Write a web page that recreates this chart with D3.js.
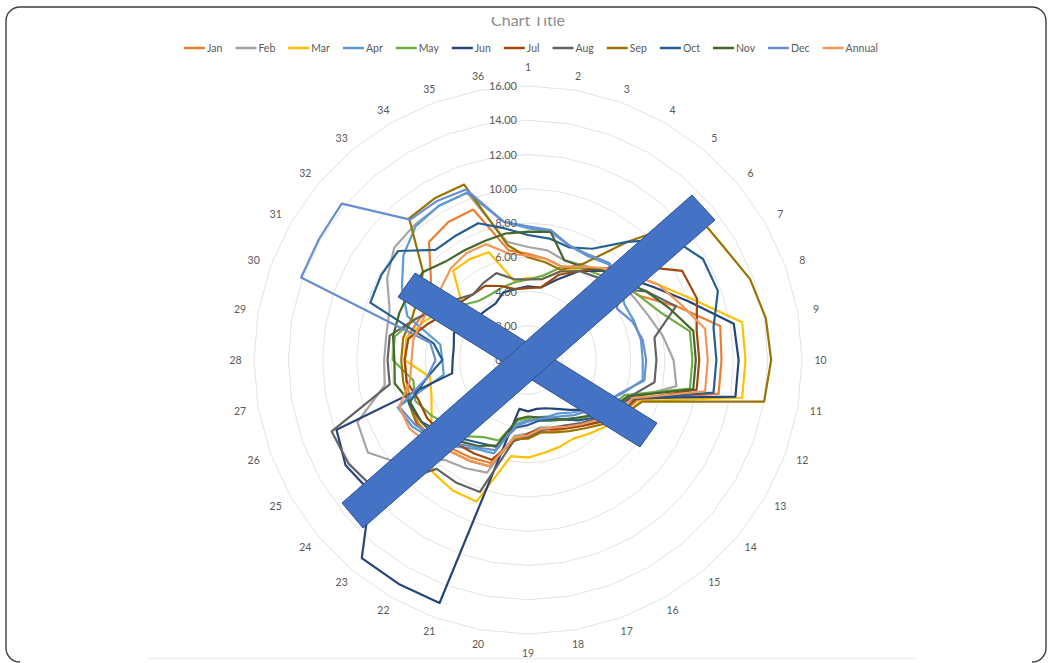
<!DOCTYPE html>
<html>
<head>
<meta charset="utf-8">
<script src="https://cdn.jsdelivr.net/npm/d3@7"></script>
<style>
  html, body { margin: 0; padding: 0; background: #fff; }
  svg { display: block; }
  text { font-family: Lato, "Open Sans", sans-serif; }
</style>
</head>
<body>
<svg id="chart" width="1049" height="663"></svg>
<script>
// Station sectors 1..36 (10 degrees each), monthly and annual values
const categories = d3.range(1, 37);
const seriesNames = ["Jan","Feb","Mar","Apr","May","Jun","Jul","Aug","Sep","Oct","Nov","Dec","Annual"];
const seriesColors = ["#ED7D31","#A5A5A5","#FFC000","#5B9BD5","#70AD47","#264478","#9E480E","#636363","#997300","#255E91","#43682B","#698ED0","#F1975A"];
const radialTicks = [0, 2, 4, 6, 8, 10, 12, 14, 16];

const jan    = [6.2,6.0,5.8,6.2,6.8,7.0,7.5,9.2,11.4,11.3,11.3,6.8,6.3,5.6,5.0,4.6,4.4,4.3,4.5,4.6,6.4,6.6,6.8,7.2,7.4,7.3,7.2,7.2,7.2,6.8,6.6,7.4,9.0,9.3,9.35,6.5];
const feb    = [6.6,6.5,6.2,6.4,6.8,7.0,7.2,7.5,8.0,8.5,8.8,6.5,6.0,5.5,5.0,4.5,4.2,4.0,4.3,4.5,7.0,7.3,7.6,9.5,10.8,10.6,8.5,8.4,8.4,8.6,9.5,10.2,10.3,10.4,10.4,7.0];
const mar    = [4.8,4.8,5.5,6.2,7.0,7.8,8.8,10.3,12.7,12.7,12.7,7.0,6.5,6.0,5.6,5.3,5.4,5.5,5.7,5.7,8.8,8.8,8.6,7.5,6.5,6.0,5.8,7.2,7.2,6.5,5.8,5.0,6.8,6.8,6.7,4.7];
const apr    = [7.7,7.6,7.1,7.0,7.3,7.0,6.5,6.6,6.7,6.7,6.8,5.8,5.0,4.5,4.0,3.6,3.5,3.4,3.5,3.8,5.8,6.0,6.6,7.2,7.8,8.1,5.0,5.0,5.2,7.5,8.5,9.5,10.2,10.4,10.4,8.2];
const may    = [4.7,5.0,5.8,6.2,6.5,7.0,7.5,8.2,9.6,9.6,9.6,6.0,5.5,5.0,4.5,4.0,3.8,3.6,3.4,3.6,5.0,5.2,5.8,6.0,6.5,7.0,6.8,7.9,7.9,7.0,6.0,5.0,4.5,4.4,4.5,4.6];
const jun    = [4.3,4.3,5.0,6.0,6.8,7.5,8.5,10.0,12.2,12.3,12.3,6.5,5.5,4.5,3.8,3.3,3.0,2.9,3.0,2.9,15.1,15.1,15.1,12.0,12.3,11.9,4.5,4.4,4.4,4.6,4.2,3.9,3.8,3.8,4.2,4.2];
const jul    = [4.2,4.3,5.3,6.0,7.0,8.5,10.4,10.5,10.0,10.0,10.0,6.7,6.2,5.6,5.0,4.6,4.3,4.1,4.3,4.8,6.2,6.3,6.4,6.6,6.8,6.8,7.2,7.2,7.1,6.2,5.5,5.2,5.0,5.0,4.6,4.2];
const aug    = [4.7,4.8,5.5,6.0,6.3,6.5,8.0,9.2,7.5,7.5,7.5,6.3,5.8,5.3,4.8,4.4,4.2,4.2,4.5,4.8,8.2,8.3,8.3,11.7,12.1,12.2,8.2,8.2,8.2,7.0,6.0,5.5,5.0,5.2,5.4,4.8];
const sep    = [6.0,5.8,5.6,6.5,9.0,13.0,13.2,13.8,14.1,14.2,14.0,7.1,6.4,5.8,5.2,4.8,4.5,4.3,4.6,4.7,6.6,6.8,7.0,7.3,7.5,7.4,7.4,7.4,7.4,7.2,7.4,8.0,10.8,10.9,10.9,6.8];
const oct    = [7.3,7.2,7.0,7.5,9.0,11.0,11.8,11.8,11.0,11.0,11.0,6.6,5.8,5.2,4.6,4.0,3.7,3.6,3.8,4.0,5.4,5.6,6.0,6.6,7.2,7.4,6.0,5.0,5.6,9.8,9.9,9.9,8.4,8.4,8.5,7.8];
const nov    = [7.5,7.6,6.2,6.3,6.8,7.2,8.0,8.8,9.8,9.8,9.8,6.2,5.6,5.0,4.4,4.0,3.6,3.4,3.3,3.5,5.3,5.8,6.2,7.0,7.2,7.3,7.9,7.8,8.0,8.0,8.0,8.0,7.5,7.4,7.4,7.5];
const dec    = [7.8,7.7,7.1,7.1,7.4,7.0,6.0,6.5,6.8,6.9,6.9,5.7,5.1,4.6,4.2,3.8,3.6,3.5,3.6,3.9,5.6,5.9,6.4,7.0,7.6,8.0,6.0,5.4,5.8,14.1,14.1,14.2,10.7,10.7,10.6,8.2];
const annual = [6.1,6.0,5.8,6.3,7.0,7.8,8.8,9.5,10.5,10.5,10.5,6.5,6.0,5.4,4.9,4.5,4.2,4.1,4.4,4.6,6.6,6.8,7.0,7.6,8.0,8.0,7.0,6.8,6.8,6.6,6.5,6.6,7.0,7.2,7.2,6.3];

const seriesValues = [jan, feb, mar, apr, may, jun, jul, aug, sep, oct, nov, dec, annual];

const svg = d3.select("#chart");
const W = 1049, H = 663;
const cx = 528, cy = 360, outerR = 274;

// outer rounded frame (bottom straight edge falls just off the page)
const fx0 = 6, fy0 = 7, fx1 = 1046, fy1 = 662, fr = 14;
const framePath = d3.path();
framePath.moveTo(fx0 + fr, fy1);
framePath.arcTo(fx0, fy1, fx0, fy1 - fr, fr);
framePath.lineTo(fx0, fy0 + fr);
framePath.arcTo(fx0, fy0, fx0 + fr, fy0, fr);
framePath.lineTo(fx1 - fr, fy0);
framePath.arcTo(fx1, fy0, fx1, fy0 + fr, fr);
framePath.lineTo(fx1, fy1 - fr);
framePath.arcTo(fx1, fy1, fx1 - fr, fy1, fr);
svg.append("path").attr("d", framePath.toString())
  .attr("fill", "none").attr("stroke", "#3f3f3f").attr("stroke-width", 1.4);

// faint plot-area baseline
svg.append("line").attr("x1", 147).attr("x2", 916).attr("y1", 658.5).attr("y2", 658.5)
  .attr("stroke", "#efefef").attr("stroke-width", 1.5);

// title, its top trimmed by the frame area
svg.append("defs").append("clipPath").attr("id", "titleClip")
  .append("rect").attr("x", 0).attr("y", 17).attr("width", W).attr("height", 30);
svg.append("text").attr("clip-path", "url(#titleClip)")
  .attr("x", cx).attr("y", 26).attr("text-anchor", "middle")
  .attr("font-size", 16).attr("fill", "#8c8c8c").text("Chart Title");

// scales
const rScale = d3.scaleLinear().domain([0, 16]).range([0, outerR]);
const angle = d3.scalePoint().domain(categories).range([0, 2 * Math.PI * 35 / 36]);

const g = svg.append("g").attr("transform", `translate(${cx},${cy})`);

// gridline polygons
const gridLine = d3.lineRadial().curve(d3.curveLinearClosed)
  .angle(c => angle(c));
g.append("g").selectAll("path").data(radialTicks.filter(t => t > 0)).join("path")
  .attr("d", t => gridLine.radius(() => rScale(t))(categories))
  .attr("fill", "none").attr("stroke", "#e3e3e3").attr("stroke-width", 1);

// category labels: sit just outside the outer ring, a little farther out
// where the label's width faces the centre
function labelRadius(c) {
  const a = angle(c);
  const s = Math.sin(a), co = Math.cos(a);
  return outerR + 14 + 4.5 * s * s + (co * co > 0.99 ? 5 : 0);
}
g.append("g").selectAll("text").data(categories).join("text")
  .attr("x", c => labelRadius(c) * Math.sin(angle(c)))
  .attr("y", c => -labelRadius(c) * Math.cos(angle(c)) + 4)
  .attr("text-anchor", "middle").attr("font-size", 10.5).attr("fill", "#595959")
  .text(c => c);

// series lines
const radial = d3.lineRadial().curve(d3.curveLinearClosed)
  .angle((d, i) => angle(categories[i]))
  .radius(d => rScale(d));
g.append("g").selectAll("path").data(seriesValues).join("path")
  .attr("d", d => radial(d))
  .attr("fill", "none")
  .attr("stroke", (d, i) => seriesColors[i])
  .attr("stroke-width", 2.2)
  .attr("stroke-linejoin", "round");

// value axis labels
const fmt = d3.format(".2f");
g.append("g").selectAll("text").data(radialTicks).join("text")
  .attr("x", -11).attr("y", t => -rScale(t) + 4)
  .attr("text-anchor", "end").attr("font-size", 11).attr("fill", "#595959")
  .text(t => fmt(t));

// legend
const legend = svg.append("g").attr("transform", "translate(0,48)");
const items = legend.selectAll("g").data(seriesNames).join("g");
items.append("line").attr("x1", 0).attr("x2", 21).attr("y1", 0).attr("y2", 0)
  .attr("stroke", (d, i) => seriesColors[i]).attr("stroke-width", 2.5);
items.append("text").attr("x", 23).attr("y", 4).attr("font-size", 10.5).attr("fill", "#595959")
  .text(d => d);
const widths = [];
items.each(function () { widths.push(23 + d3.select(this).select("text").node().getComputedTextLength()); });
const gap = 13;
const total = d3.sum(widths) + gap * (widths.length - 1);
let x0 = 531 - total / 2;
items.attr("transform", (d, i) => {
  const t = `translate(${x0},0)`;
  x0 += widths[i] + gap;
  return t;
});

// cross-out overlay drawn across the plot
const overlay = svg.append("g");
const bars = [
  [[415, 273], [657, 423], [640, 447], [398, 297]],
  [[692, 195], [715, 220], [363, 528], [342, 503]]
];
overlay.selectAll("path").data(bars).join("path")
  .attr("d", d => d3.line()(d) + "Z")
  .attr("fill", "#4472C4").attr("stroke", "#2F528F").attr("stroke-width", 1);
</script>
</body>
</html>
